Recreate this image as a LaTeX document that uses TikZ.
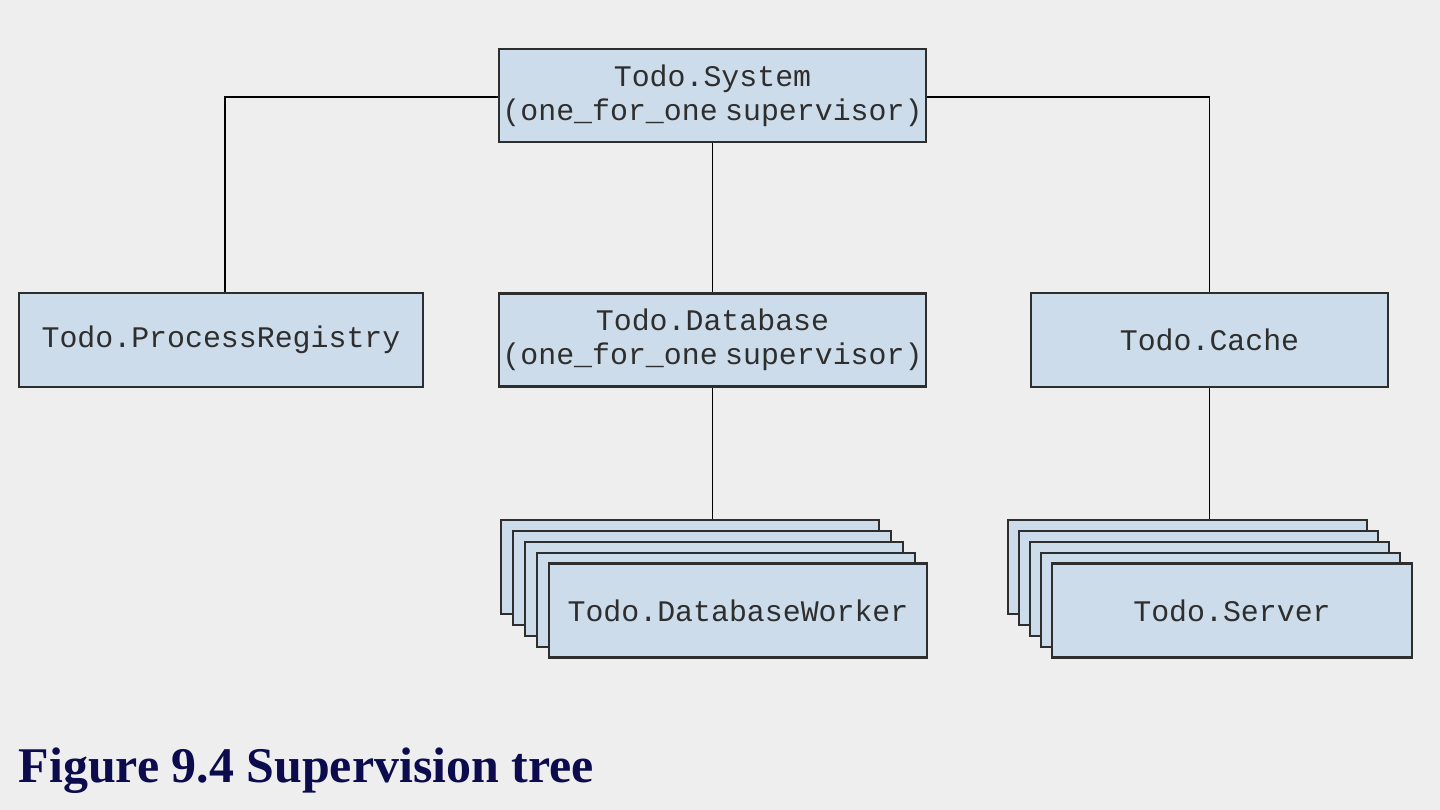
\documentclass[tikz,border=0pt]{standalone}
\usepackage{fontspec}
\setmonofont{Liberation Mono}
\newfontfamily\titlefont{Liberation Serif}
\usetikzlibrary{positioning}
\definecolor{pagebg}{HTML}{EEEEEE}
\definecolor{boxfill}{HTML}{CDDCEA}
\definecolor{boxline}{HTML}{2E2E2E}
\definecolor{captionblue}{HTML}{0B0B4D}
\tikzset{
    basic/.style  = {draw=boxline, fill=boxfill, line width=0.6pt, rectangle, inner sep=0pt,
                     text=boxline, align=center, font=\ttfamily\fontsize{8.5}{9.7}\selectfont},
    sup box/.style = {basic, minimum width=4.27cm, minimum height=0.93cm},
    leaf box/.style = {basic, minimum height=0.94cm},
    link/.style = {draw=black, line width=0.45pt}
}
\newcommand{\supkind}{(one\_for\_one\hspace{0.25em}supervisor)}
\begin{document}
\begin{tikzpicture}[x=0.01cm, y=-0.01cm]
    \fill[pagebg] (0,0) rectangle (1440,810);
    \useasboundingbox (0,0) rectangle (1440,810);
    % supervisors
    \node[sup box] (sys) at (712.5,95.5) {Todo.System\\\supkind};
    \node[sup box] (db) at (712.5,340) {Todo.Database\\\supkind};
    \node[leaf box, minimum width=4.04cm] (reg) at (221,340) {Todo.ProcessRegistry};
    \node[leaf box, minimum width=3.57cm] (cache) at (1209.5,340) {Todo.Cache};
    % worker stacks
    \foreach \i in {0,...,3}
        \node[leaf box, minimum width=3.78cm] (dbw\i) at (690+12*\i,567+10.9*\i) {};
    \node[leaf box, minimum width=3.78cm] (dbw4) at (738,610.5) {Todo.DatabaseWorker};
    \foreach \i in {0,...,3}
        \node[leaf box, minimum width=3.59cm] (srv\i) at (1187.5+11.1*\i,567+10.9*\i) {};
    \node[leaf box, minimum width=3.59cm] (srv4) at (1232,610.5) {Todo.Server};
    % links
    \draw[link] ([yshift=-0.015cm]sys.west) -| ([xshift=0.04cm]reg.north);
    \draw[link] ([yshift=-0.015cm]sys.east) -| (cache.north);
    \draw[link] (sys.south) -- (db.north);
    \draw[link] (db.south) -- (db.south |- dbw0.north);
    \draw[link] (cache.south) -- (cache.south |- srv0.north);
    % caption
    \node[anchor=base west, inner sep=0pt, text=captionblue,
          font=\titlefont\bfseries\fontsize{14.2}{17}\selectfont] (caption) at (18,782)
          {Figure 9.4 Supervision tree};
\end{tikzpicture}
\end{document}
